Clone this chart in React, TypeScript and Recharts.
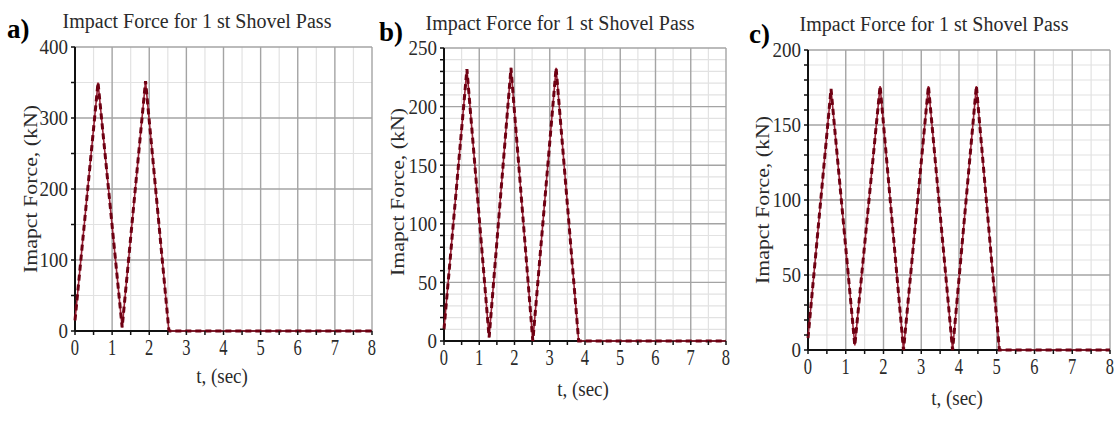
import React from 'react';
import { LineChart, Line, XAxis, YAxis, ReferenceLine } from 'recharts';

// ---- data (t in sec, impact force in kN) ----
const timeA = [0, 0.62, 1.27, 1.9, 2.53, 8];
const forceA = [15, 350, 5, 352, 0, 0];

const timeB = [0, 0.65, 1.28, 1.9, 2.52, 3.18, 3.82, 8];
const forceB = [10, 232, 3, 233, 0, 233, 0, 0];

const timeC = [0, 0.61, 1.24, 1.91, 2.53, 3.19, 3.83, 4.46, 5.07, 8];
const forceC = [8, 174, 3, 176, 0, 176, 0, 176, 0, 0];

// ---- ticks ----
const xTicks = [0, 1, 2, 3, 4, 5, 6, 7, 8];
const xMinor = [0.5, 1.5, 2.5, 3.5, 4.5, 5.5, 6.5, 7.5];

const yTicksA = [0, 100, 200, 300, 400];
const yMinorA = [50, 150, 250, 350];

const yTicksB = [0, 50, 100, 150, 200, 250];
const yMinorB = [10, 20, 30, 40, 60, 70, 80, 90, 110, 120, 130, 140, 160, 170, 180, 190, 210, 220, 230, 240];

const yTicksC = [0, 50, 100, 150, 200];
const yMinorC = [10, 20, 30, 40, 60, 70, 80, 90, 110, 120, 130, 140, 160, 170, 180, 190];

const titleText = 'Impact Force for 1 st Shovel Pass';
const yLabelText = 'Imapct Force, (kN)';
const xLabelText = 't, (sec)';
const panelLetters = ['a)', 'b)', 'c)'];

const FONT = '"Liberation Serif", "Times New Roman", serif';
const LINE_COLOR = '#9a2236';
const LINE_DARK = '#6e0012';
const MAJOR_GRID = '#a4a4a4';
const MINOR_GRID = '#e2e2e2';
const TEXT_COLOR = '#2a2a2a';

const build = (t: number[], f: number[]) => t.map((v, i) => ({ t: v, f: f[i] }));

const makeXTick = (majors: number[]) => (props: any) => {
  const { x, y, payload } = props;
  if (!majors.includes(payload.value)) return <g />;
  return (
    <g transform={`translate(${x},${y})`}>
      <text
        x={0}
        y={0}
        textAnchor="middle"
        fontFamily={FONT}
        fontSize={16.5}
        fill={TEXT_COLOR}
        transform="scale(1,1.45)"
        dy="0.72em"
      >
        {payload.value}
      </text>
    </g>
  );
};

const makeYTick = (majors: number[]) => (props: any) => {
  const { x, y, payload } = props;
  if (!majors.includes(payload.value)) return <g />;
  return (
    <g transform={`translate(${x},${y})`}>
      <text
        x={0}
        y={0}
        textAnchor="end"
        fontFamily={FONT}
        fontSize={19}
        fill={TEXT_COLOR}
        transform="scale(1,1.12)"
        dy="0.35em"
      >
        {payload.value}
      </text>
    </g>
  );
};

type PanelProps = {
  left: number;
  width: number;
  margin: { top: number; right: number; left: number; bottom: number };
  time: number[];
  force: number[];
  yMax: number;
  yTicks: number[];
  yMinor: number[];
};

const Panel = ({ left, width, margin, time, force, yMax, yTicks, yMinor }: PanelProps) => {
  const data = build(time, force);
  return (
    <div style={{ position: 'absolute', left, top: 0 }}>
      <LineChart width={width} height={423} data={data} margin={margin}>
        {yMinor.map((v) => (
          <ReferenceLine key={`ym${v}`} y={v} stroke={MINOR_GRID} strokeWidth={1.2} />
        ))}
        {xMinor.map((v) => (
          <ReferenceLine key={`xm${v}`} x={v} stroke={MINOR_GRID} strokeWidth={1.2} />
        ))}
        {yTicks.map((v) => (
          <ReferenceLine key={`yM${v}`} y={v} stroke={MAJOR_GRID} strokeWidth={1.4} />
        ))}
        {xTicks.map((v) => (
          <ReferenceLine key={`xM${v}`} x={v} stroke={MAJOR_GRID} strokeWidth={1.4} />
        ))}
        <ReferenceLine y={0} stroke="#111" strokeWidth={2} />
        <ReferenceLine x={0} stroke="#111" strokeWidth={2} />
        <XAxis
          dataKey="t"
          type="number"
          domain={[0, 8]}
          ticks={[...xTicks, ...xMinor]}
          interval={0}
          tickSize={4}
          tickMargin={3}
          height={30}
          axisLine={false}
          tickLine={{ stroke: '#111', strokeWidth: 1.5 }}
          tick={makeXTick(xTicks)}
        />
        <YAxis
          type="number"
          domain={[0, yMax]}
          ticks={[...yTicks, ...yMinor]}
          interval={0}
          tickSize={4}
          tickMargin={3}
          width={40}
          axisLine={false}
          tickLine={{ stroke: '#111', strokeWidth: 1.5 }}
          tick={makeYTick(yTicks)}
        />
        <Line
          type="linear"
          dataKey="f"
          stroke={LINE_COLOR}
          strokeWidth={1.6}
          dot={false}
          isAnimationActive={false}
        />
        <Line
          type="linear"
          dataKey="f"
          stroke={LINE_DARK}
          strokeWidth={3}
          strokeDasharray="6 4"
          dot={false}
          isAnimationActive={false}
        />
      </LineChart>
    </div>
  );
};

const textStyle: React.CSSProperties = {
  position: 'absolute',
  fontFamily: FONT,
  color: TEXT_COLOR,
  whiteSpace: 'nowrap',
  lineHeight: 1,
};

const Title = ({ cx, top }: { cx: number; top: number }) => (
  <div style={{ ...textStyle, left: cx, top, fontSize: 20, transform: 'translateX(-50%) scaleY(1.08)' }}>{titleText}</div>
);

const Letter = ({ x, top, text }: { x: number; top: number; text: string }) => (
  <div style={{ ...textStyle, left: x, top, fontSize: 27, fontWeight: 'bold', color: '#000' }}>{text}</div>
);

const YLabel = ({ cx, cy }: { cx: number; cy: number }) => (
  <div
    style={{
      ...textStyle,
      left: cx,
      top: cy,
      fontSize: 19,
      transform: 'translate(-50%,-50%) rotate(-90deg) scaleX(1.15)',
    }}
  >
    {yLabelText}
  </div>
);

const XLabel = ({ cx, cy }: { cx: number; cy: number }) => (
  <div style={{ ...textStyle, left: cx, top: cy, fontSize: 19, transform: 'translate(-50%,-50%) scaleY(1.1)' }}>
    {xLabelText}
  </div>
);

export default function App() {
  return (
    <div style={{ position: 'absolute', left: 0, top: 0, width: 1120, height: 423, background: '#fff', overflow: 'hidden' }}>
      <Panel
        left={0}
        width={380}
        margin={{ top: 47, right: 8, left: 35, bottom: 62 }}
        time={timeA}
        force={forceA}
        yMax={400}
        yTicks={yTicksA}
        yMinor={yMinorA}
      />
      <Panel
        left={370}
        width={370}
        margin={{ top: 48, right: 14, left: 34, bottom: 52 }}
        time={timeB}
        force={forceB}
        yMax={250}
        yTicks={yTicksB}
        yMinor={yMinorB}
      />
      <Panel
        left={740}
        width={380}
        margin={{ top: 50, right: 10, left: 28, bottom: 43 }}
        time={timeC}
        force={forceC}
        yMax={200}
        yTicks={yTicksC}
        yMinor={yMinorC}
      />
      <Title cx={197} top={10} />
      <Title cx={560} top={12} />
      <Title cx={934} top={13} />
      <Letter x={7} top={16} text={panelLetters[0]} />
      <Letter x={379} top={19} text={panelLetters[1]} />
      <Letter x={749} top={21} text={panelLetters[2]} />
      <YLabel cx={30} cy={189} />
      <YLabel cx={397} cy={192} />
      <YLabel cx={762} cy={200} />
      <XLabel cx={222} cy={376} />
      <XLabel cx={583} cy={389} />
      <XLabel cx={957} cy={398} />
    </div>
  );
}
